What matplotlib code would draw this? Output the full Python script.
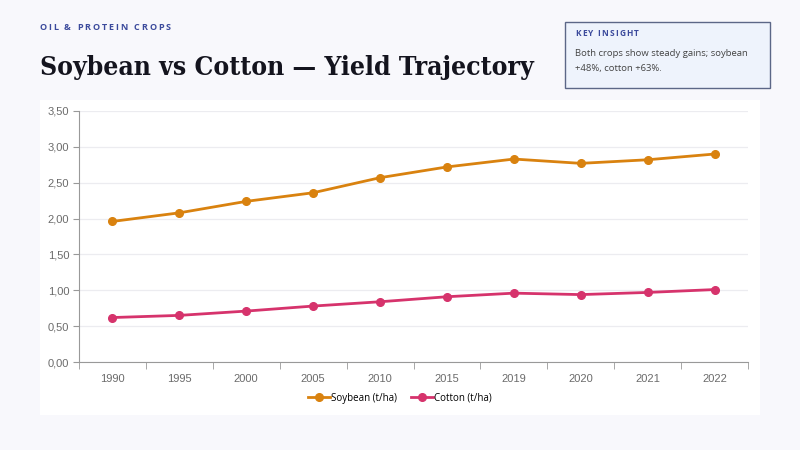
import matplotlib
matplotlib.use('Agg')
import matplotlib.pyplot as plt
from matplotlib.patches import Rectangle

# data
years = ['1990', '1995', '2000', '2005', '2010', '2015', '2019', '2020', '2021', '2022']
soybean = [1.96, 2.08, 2.24, 2.36, 2.57, 2.72, 2.83, 2.77, 2.82, 2.90]
cotton = [0.62, 0.65, 0.71, 0.78, 0.84, 0.91, 0.96, 0.94, 0.97, 1.01]
yticks = [0.0, 0.5, 1.0, 1.5, 2.0, 2.5, 3.0, 3.5]

bg = '#f8f8fc'
orange = '#d9820f'
pink = '#d6336c'
navy = '#3b4a9c'

fig = plt.figure(figsize=(8, 4.5), dpi=100, facecolor=bg)
W, H = 800, 450


def fx(px):
    return px / W


def fy(py):
    return 1 - py / H


def spaced(x, y, s, spacing, **kw):
    # draw text one char at a time to get letter spacing
    r = fig.canvas.get_renderer()
    xp = x
    for ch in s:
        t = fig.text(fx(xp), fy(y), ch, va='center', ha='left', **kw)
        w = t.get_window_extent(renderer=r).width
        if ch == ' ':
            w = 2
        xp += w + spacing


# white chart panel
fig.patches.append(Rectangle((fx(40), fy(415)), fx(720), (415 - 100) / H,
                             transform=fig.transFigure, facecolor='white',
                             edgecolor='none', zorder=-5))

spaced(39, 28, 'OIL & PROTEIN CROPS', 2.0, fontsize=6.5, fontweight='bold',
       color=navy, family='Open Sans')
fig.text(fx(40), fy(67), 'Soybean vs Cotton \u2014 Yield Trajectory', fontsize=19,
         fontweight='bold', family='DejaVu Serif', fontstretch='condensed',
         color='#14141e', va='center')

# insight box
fig.patches.append(Rectangle((fx(565), fy(88)), fx(205), (88 - 22) / H,
                             transform=fig.transFigure, facecolor='#eef3fc',
                             edgecolor='#5c6787', linewidth=1, zorder=-4))
spaced(575, 33, 'KEY INSIGHT', 1.2, fontsize=6, fontweight='bold',
       color=navy, family='Open Sans')
fig.text(fx(575), fy(54), 'Both crops show steady gains; soybean', fontsize=6.8,
         color='#444444', family='Open Sans', va='center')
fig.text(fx(575), fy(69), '+48%, cotton +63%.', fontsize=6.8,
         color='#444444', family='Open Sans', va='center')

ax = fig.add_axes([fx(79), fy(362), fx(748 - 79), (362 - 111) / H])
ax.set_facecolor('white')
x = range(len(years))
ax.plot(x, soybean, color=orange, lw=2, marker='o', ms=5.5, label='Soybean (t/ha)', zorder=3)
ax.plot(x, cotton, color=pink, lw=2, marker='o', ms=5.5, label='Cotton (t/ha)', zorder=3)

ax.set_xlim(-0.5, len(years) - 0.5)
ax.set_ylim(0, 3.5)
ax.set_yticks(yticks)
ax.set_yticklabels([f'{v:.2f}'.replace('.', ',') for v in yticks])
ax.set_xticks(list(x))
ax.set_xticklabels(years)
ax.set_xticks([i + 0.5 for i in range(-1, len(years))], minor=True)
ax.tick_params(axis='x', which='major', length=0, pad=9, labelsize=8, labelcolor='#6b6b6b')
ax.tick_params(axis='x', which='minor', length=5, color='#999999')
ax.tick_params(axis='y', length=4, color='#999999', labelsize=8, labelcolor='#6b6b6b', pad=3)
for lbl in ax.get_xticklabels() + ax.get_yticklabels():
    lbl.set_family('Liberation Sans')
ax.grid(axis='y', color='#ececf0', lw=0.9)
ax.set_axisbelow(True)
for s in ['top', 'right']:
    ax.spines[s].set_visible(False)
ax.spines['left'].set_color('#999999')
ax.spines['bottom'].set_color('#999999')

fig.legend(loc='center', bbox_to_anchor=(fx(400), fy(398)), ncol=2, frameon=False,
           handlelength=2.2, handletextpad=0.1, columnspacing=1.5,
           prop={'family': 'Open Sans', 'size': 7})

fig.savefig('out.png', dpi=100, facecolor=bg)
